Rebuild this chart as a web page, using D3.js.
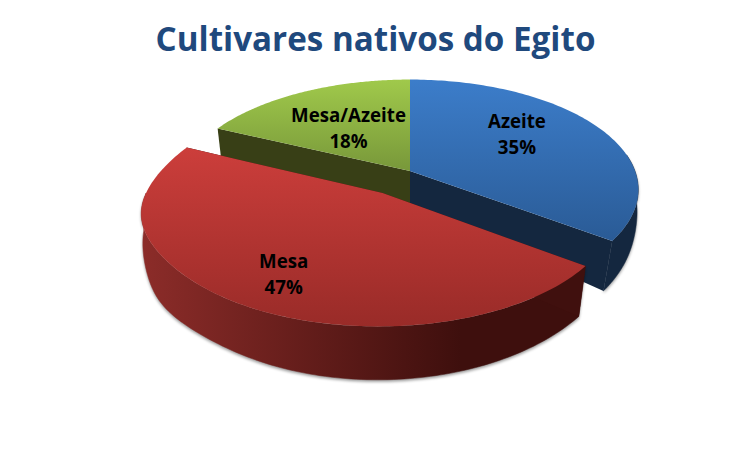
<!DOCTYPE html>
<html><head><meta charset="utf-8">
<script src="https://cdn.jsdelivr.net/npm/d3@7"></script>
<style>html,body{margin:0;padding:0;background:#fff}svg{display:block}</style>
</head><body><svg id="c" width="750" height="450"></svg>
<script>
const titleText = "Cultivares nativos do Egito";
const categories = ["Azeite", "Mesa", "Mesa/Azeite"];
const values = [35, 47, 18];
const explode = [0, 0.232, 0];

// Style tables, kept apart from the data
const faceTop = ["#3c7dca", "#cc3e3b", "#a0c94b"];
const faceBottom = ["#2a5b96", "#992b28", "#78983a"];
const wallCut = ["#14273f", "#40100e", "#383f16"];
const wallLeft = ["#14273f", "#8c2c29", "#383f16"];
const wallRight = ["#14273f", "#3e0f0d", "#383f16"];
const labelNudge = [[-8, -15], [-20, 11], [6, 1]];

// Projection of the tilted pie: each slice's top and bottom rim have their own perspective.
// bulge = [peak angle in degrees, width in degrees, horizontal amount]
const topRims = [
  {cx: 410, cy: 171, R: 225, a: 107, k: 0.17, skew: 0, bulge: [0, 1, 0]},
  {cx: 410, cy: 171, R: 225, a: 107, k: 0.145, skew: 0, bulge: [258, 22, -6.5]},
  {cx: 410, cy: 171, R: 228, a: 107, k: 0.17, skew: 0, bulge: [0, 1, 0]}
];
const botRims = [
  {cx: 410, cy: 204, R: 228, a: 141, k: 0.08, skew: 0, bulge: [100, 14, -2]},
  {cx: 410, cy: 204, R: 235, a: 136, k: 0.06, skew: 2, bulge: [238, 14, -6]},
  {cx: 410, cy: 204, R: 215, a: 95, k: 0.08, skew: 0, bulge: [0, 1, 0]}
];
const project = (rim, X, U, theta) => {
  const s = 1 / (1 - rim.k * U);
  const deg = theta * 180 / Math.PI;
  const extra = rim.bulge[2] * Math.exp(-(((deg - rim.bulge[0]) / rim.bulge[1]) ** 2));
  return [rim.cx + rim.R * X * s - rim.skew * U + extra, rim.cy + rim.a * U * s];
};

const svg = d3.select("#c");
const defs = svg.append("defs");
const shadow = defs.append("filter").attr("id", "sh")
  .attr("x", "-10%").attr("y", "-10%").attr("width", "120%").attr("height", "125%");
shadow.append("feGaussianBlur").attr("stdDeviation", 1.5);

const pie = d3.pie().sort(null).value(d => d).startAngle(0).endAngle(2 * Math.PI);
const arcs = pie(values);
const drawOrder = [2, 0, 1];

const unit = (i, theta, r) => {
  const mid = (arcs[i].startAngle + arcs[i].endAngle) / 2;
  return [r * Math.sin(theta) + explode[i] * Math.sin(mid),
          -r * Math.cos(theta) - explode[i] * Math.cos(mid)];
};
const pt = (rim, i, theta, r = 1) => project(rim, ...unit(i, theta, r), r === 1 ? theta : -9);
const rimPoints = (rim, i, a0, a1) =>
  d3.range(0, 121).map(j => pt(rim, i, a0 + (a1 - a0) * j / 120));
const line = d3.line();

const slices = svg.append("g");
drawOrder.forEach(i => {
  const {startAngle: a0, endAngle: a1} = arcs[i];
  const topRim = topRims[i], botRim = botRims[i];
  const g = slices.append("g");

  // outer wall: only the part facing the viewer
  const w0 = Math.max(a0, Math.PI / 2 * 0.9), w1 = Math.min(a1, Math.PI * 1.5);
  if (w1 > w0) {
    const outer = rimPoints(topRim, i, w0, w1).concat(rimPoints(botRim, i, w0, w1).reverse());
    const xs = outer.map(p => p[0]);
    const id = "w" + i;
    const lg = defs.append("linearGradient").attr("id", id).attr("gradientUnits", "userSpaceOnUse")
      .attr("x1", d3.min(xs)).attr("x2", d3.max(xs)).attr("y1", 0).attr("y2", 0);
    lg.append("stop").attr("offset", 0).attr("stop-color", wallLeft[i]);
    lg.append("stop").attr("offset", 0.72).attr("stop-color", wallRight[i]);
    lg.append("stop").attr("offset", 1).attr("stop-color", wallRight[i]);
    g.append("path").attr("d", line(outer) + "Z").attr("fill", "#000").attr("opacity", 0.4)
      .attr("transform", "translate(0,2)").attr("filter", "url(#sh)");
    g.append("path").attr("d", line(outer) + "Z").attr("fill", `url(#${id})`)
      .attr("stroke", `url(#${id})`).attr("stroke-width", 0.5);
  }

  // cut walls
  [a0, a1].forEach(a => {
    const q = [pt(topRim, i, a, 0), pt(topRim, i, a), pt(botRim, i, a), pt(botRim, i, a, 0)];
    g.append("path").attr("d", line(q) + "Z").attr("fill", wallCut[i]);
  });

  // top face
  const face = [pt(topRim, i, a0, 0)].concat(rimPoints(topRim, i, a0, a1));
  const ys = face.map(p => p[1]);
  const tg = defs.append("linearGradient").attr("id", "t" + i).attr("gradientUnits", "userSpaceOnUse")
    .attr("x1", 0).attr("x2", 0).attr("y1", d3.min(ys)).attr("y2", d3.max(ys));
  tg.append("stop").attr("offset", 0).attr("stop-color", faceTop[i]);
  tg.append("stop").attr("offset", 1).attr("stop-color", faceBottom[i]);
  g.append("path").attr("d", line(face) + "Z").attr("fill", `url(#t${i})`);
});

svg.append("text").attr("x", 375.5).attr("y", 51).attr("text-anchor", "middle")
  .attr("font-family", "'Open Sans'").attr("font-weight", 700).attr("font-size", 33.2)
  .attr("fill", "#1f497d").text(titleText);

const labels = svg.append("g").attr("font-family", "'Open Sans'").attr("font-weight", 700)
  .attr("font-size", 18.7).attr("fill", "#000").attr("text-anchor", "middle");
arcs.forEach((d, i) => {
  const p = pt(topRims[i], i, (d.startAngle + d.endAngle) / 2, 0.6);
  const x = p[0] + labelNudge[i][0], y = p[1] + labelNudge[i][1];
  labels.append("text").attr("x", x).attr("y", y).text(categories[i]);
  labels.append("text").attr("x", x).attr("y", y + 26).text(d3.format(".0%")(d.data / d3.sum(values)));
});
</script></body></html>
